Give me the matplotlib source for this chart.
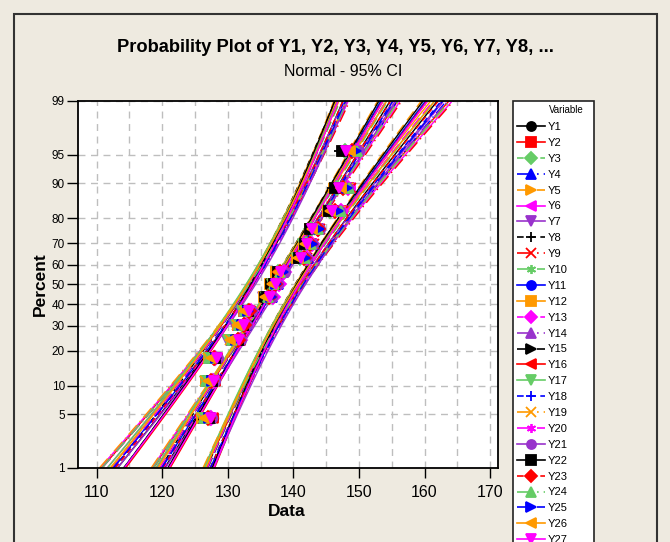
import numpy as np
import matplotlib
matplotlib.use("Agg")
import matplotlib.pyplot as plt
from matplotlib.lines import Line2D
from matplotlib.patches import Rectangle
from statistics import NormalDist

plt.rcParams['font.family'] = ['Liberation Sans', 'DejaVu Sans']

# sample values (15 obs per variable)
Y1 = [127.8, 127.9, 128.0, 131.5, 132.4, 133.1, 136.4, 137.2, 138.0, 141.6, 142.4, 143.2, 146.8, 147.9, 149.2]
Y2 = [126.3, 126.7, 127.2, 130.6, 131.5, 132.4, 135.9, 137.0, 137.8, 141.7, 142.7, 143.6, 147.2, 148.4, 149.6]
Y3 = [127.3, 127.7, 128.1, 131.6, 132.4, 133.1, 136.2, 136.9, 137.6, 141.0, 141.9, 142.7, 145.6, 146.6, 147.8]
Y4 = [127.0, 127.4, 127.7, 131.9, 132.8, 133.6, 136.8, 137.6, 138.4, 142.2, 143.1, 143.9, 147.2, 148.6, 149.6]
Y5 = [127.5, 127.9, 128.3, 131.4, 132.1, 132.9, 135.6, 136.6, 137.4, 140.8, 141.7, 142.6, 145.2, 146.2, 147.6]
Y6 = [126.1, 126.6, 127.1, 130.5, 131.6, 132.6, 136.1, 137.3, 138.2, 141.8, 142.8, 143.9, 147.4, 148.6, 149.8]
Y7 = [127.1, 127.8, 128.3, 129.8, 131.0, 132.0, 135.4, 136.8, 137.9, 140.9, 142.1, 143.7, 146.9, 148.2, 149.5]
Y8 = [126.3, 126.7, 127.0, 130.4, 131.6, 132.6, 136.0, 136.7, 137.5, 141.0, 141.9, 142.7, 145.3, 145.9, 147.0]
Y9 = [126.4, 126.8, 127.3, 130.8, 131.8, 132.7, 136.6, 137.4, 138.6, 142.1, 143.1, 144.0, 147.6, 148.8, 150.0]
Y10 = [126.5, 127.1, 127.6, 130.9, 131.8, 132.9, 136.3, 137.1, 137.7, 141.3, 142.2, 143.0, 145.8, 147.4, 148.4]
Y11 = [127.4, 127.8, 128.2, 131.7, 132.5, 133.2, 135.8, 136.9, 137.8, 140.9, 141.8, 142.7, 145.7, 146.8, 147.9]
Y12 = [126.1, 126.6, 127.1, 130.6, 131.5, 132.5, 135.5, 136.5, 137.3, 140.5, 141.6, 142.6, 145.2, 146.6, 148.1]
Y13 = [127.4, 127.7, 128.1, 131.8, 132.7, 133.5, 136.9, 137.8, 138.5, 142.0, 142.9, 143.8, 147.3, 148.3, 149.7]
Y14 = [126.2, 126.7, 127.2, 130.5, 131.5, 132.5, 136.2, 137.0, 137.6, 141.5, 142.6, 143.5, 147.0, 148.3, 149.6]
Y15 = [126.4, 127.0, 127.6, 131.0, 131.9, 132.8, 135.7, 136.6, 137.9, 140.8, 141.9, 143.0, 145.6, 147.2, 148.5]
Y16 = [127.7, 128.0, 128.4, 131.9, 132.6, 133.4, 136.5, 137.3, 138.0, 141.2, 142.0, 142.9, 145.9, 147.0, 148.1]
Y17 = [126.0, 126.5, 127.0, 130.1, 131.2, 132.1, 135.8, 136.8, 137.7, 140.6, 141.5, 142.9, 145.5, 146.9, 148.2]
Y18 = [127.0, 127.5, 128.0, 131.4, 132.3, 133.2, 136.4, 137.3, 138.2, 141.5, 142.4, 143.5, 146.6, 147.9, 149.8]
Y19 = [126.0, 126.5, 127.0, 130.4, 131.4, 132.4, 136.0, 136.9, 137.8, 141.6, 142.6, 143.6, 147.1, 148.4, 149.8]
Y20 = [126.3, 126.8, 127.5, 131.1, 132.0, 133.0, 135.6, 136.7, 137.5, 140.9, 142.0, 142.8, 145.9, 147.0, 148.3]
Y21 = [127.6, 128.0, 128.5, 132.0, 132.9, 133.7, 136.7, 137.6, 138.7, 142.1, 143.0, 144.0, 147.1, 148.4, 150.0]
Y22 = [127.2, 127.6, 128.0, 131.5, 132.3, 133.0, 135.9, 137.0, 137.6, 140.8, 141.7, 142.5, 145.4, 146.4, 147.4]
Y23 = [126.9, 127.4, 127.9, 131.5, 132.4, 133.3, 136.3, 137.2, 138.0, 141.6, 142.6, 143.7, 146.3, 147.6, 149.0]
Y24 = [126.3, 126.7, 127.1, 130.7, 131.7, 132.6, 136.1, 137.1, 137.9, 141.7, 142.7, 143.7, 147.3, 148.5, 149.7]
Y25 = [127.1, 127.6, 128.2, 131.2, 132.2, 133.1, 136.6, 137.4, 138.4, 141.8, 142.8, 143.9, 146.8, 148.1, 149.5]
Y26 = [126.4, 126.9, 127.4, 130.4, 131.4, 132.5, 135.7, 136.8, 137.7, 140.7, 141.8, 142.9, 145.6, 147.2, 148.6]
Y27 = [127.5, 127.9, 128.3, 131.7, 132.5, 133.2, 136.5, 137.3, 138.1, 141.2, 142.1, 142.9, 145.9, 146.9, 148.0]

series = [Y1, Y2, Y3, Y4, Y5, Y6, Y7, Y8, Y9, Y10, Y11, Y12, Y13, Y14, Y15,
          Y16, Y17, Y18, Y19, Y20, Y21, Y22, Y23, Y24, Y25, Y26, Y27]
names = ['Y%d' % (i + 1) for i in range(len(series))]

pct_ticks = [1, 5, 10, 20, 30, 40, 50, 60, 70, 80, 90, 95, 99]
x_ticks = [110, 120, 130, 140, 150, 160, 170]

colors = ['#000000', '#FF0000', '#66CC66', '#0000FF', '#FF9900', '#FF00FF', '#9933CC']
markers = ['o', 's', 'D', '^', '>', '<', 'v', '+', 'x', (6, 2, 0)]
styles = ['-', '-', (0, (4, 3)), (0, (9, 3, 1, 3)), (0, (8, 4))]

nd = NormalDist()


def zval(p):
    return np.array([nd.inv_cdf(v) for v in np.atleast_1d(p)])


bg = '#EEEAE0'
fig = plt.figure(figsize=(6.7, 5.42), dpi=100, facecolor=bg)
W, H = 670.0, 542.0
ax = fig.add_axes([78 / W, 1 - 468 / H, 420 / W, 367 / H])
ax.set_facecolor('white')

zlo, zhi = zval(0.01)[0], zval(0.99)[0]
zz = np.linspace(zlo, zhi, 80)

handles = []
for i, vals in enumerate(series):
    d = np.sort(np.array(vals))
    n = len(d)
    ranks = np.arange(1, n + 1)
    pz = zval((ranks - 0.3) / (n + 0.4))
    m = d.mean()
    s = d.std(ddof=1)
    fit = m + zz * s
    hw = 1.96 * s * np.sqrt(1.0 / n + zz ** 2 / (2.0 * n))
    c = colors[i % 7]
    mk = markers[i % 10]
    ls = styles[i % 5]
    for xs in (fit, fit - hw, fit + hw):
        ax.plot(xs, zz, color=c, ls=ls, lw=1.0, zorder=2)
    ax.plot(d, pz, ls='none', marker=mk, color=c, ms=6.8, mew=1.3, zorder=3)
    handles.append(Line2D([], [], color=c, ls=ls, lw=1.2, marker=mk, ms=6.5, mew=1.3, label=names[i]))

ax.set_xlim(107.15, 171.2)
ax.set_ylim(zlo, zhi)
ax.set_xticks(x_ticks)
ax.set_xticks(np.arange(115, 171, 10), minor=True)
ax.set_yticks(zval(np.array(pct_ticks) / 100.0))
ax.set_yticklabels([str(p) for p in pct_ticks])
ax.tick_params(axis='x', which='major', labelsize=11.5, length=7, width=1, pad=5)
ax.tick_params(axis='x', which='minor', length=0)
ax.tick_params(axis='y', labelsize=8.5, length=8, width=1, pad=1.5)
ax.grid(True, which='both', axis='x', color='#BEBEBE', ls=(0, (5, 4)), lw=1)
ax.grid(True, axis='y', color='#BEBEBE', ls=(0, (5, 4)), lw=1)
ax.set_axisbelow(True)
for sp in ax.spines.values():
    sp.set_linewidth(1.3)

fig.text(335.5 / W, 1 - 47 / H, 'Probability Plot of Y1, Y2, Y3, Y4, Y5, Y6, Y7, Y8, ...',
         ha='center', va='center', fontsize=13.2, fontweight='bold')
fig.text(343 / W, 1 - 71 / H, 'Normal - 95% CI', ha='center', va='center', fontsize=11.5)
fig.text(40 / W, 1 - 284 / H, 'Percent', ha='center', va='center', rotation=90,
         fontsize=12.5, fontweight='bold')
fig.text(287 / W, 1 - 511 / H, 'Data', ha='center', va='center', fontsize=12.5, fontweight='bold')

# outer frame
fig.patches.append(Rectangle((14 / W, -0.1), (657 - 14) / W, 1.1 - 14 / H, transform=fig.transFigure,
                             fill=False, ec='#333333', lw=1.5))
# legend box
fig.patches.append(Rectangle((512.5 / W, -0.1), (594 - 512.5) / W, 1.1 - 101 / H, transform=fig.transFigure,
                             fc='white', ec='#222222', lw=1.2, zorder=1))
fig.text(549 / W, 1 - 110 / H, 'Variable', ha='left', va='center', fontsize=7, zorder=5)
leg = fig.legend(handles=handles, loc='upper left', bbox_to_anchor=(517 / W, 1 - 122 / H),
                 frameon=False, fontsize=8, handlelength=2.5, handletextpad=0.3,
                 labelspacing=0.53, borderpad=0, borderaxespad=0)
leg.set_zorder(5)

fig.savefig('out.png', dpi=100, facecolor=bg)
